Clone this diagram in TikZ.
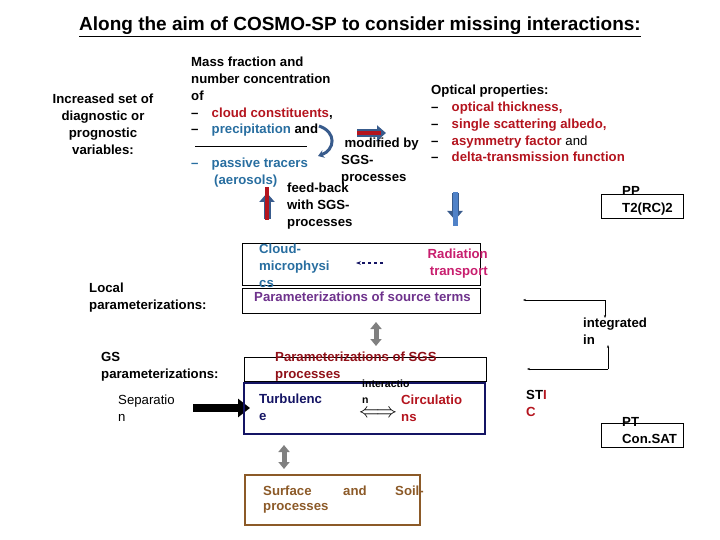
\documentclass[tikz,border=0pt]{standalone}
\usepackage{fontspec}
\setmainfont{Liberation Sans}
\usetikzlibrary{arrows.meta}
\definecolor{dred}{RGB}{180,20,30}
\definecolor{tblue}{RGB}{40,110,160}
\definecolor{mag}{RGB}{200,30,110}
\definecolor{purp}{RGB}{110,50,140}
\definecolor{navy}{RGB}{20,20,100}
\definecolor{brn}{RGB}{140,90,40}
\definecolor{bluea}{RGB}{80,130,200}
\begin{document}
\begin{tikzpicture}[x=1pt,y=-1pt,
 t/.style={inner sep=0,anchor=north west,align=left,font=\fontsize{13.2}{16.8}\selectfont\bfseries},
 bx/.style={draw,line width=0.8pt},
 fat/.style={line width=7pt,-{Triangle[length=9pt,width=15pt]}},
 gdbl/.style={line width=5pt,color=black!50,{Triangle[length=7pt,width=11pt]}-{Triangle[length=7pt,width=11pt]}},
 con/.style={-{Stealth[length=3pt]},line width=0.8pt}]
\useasboundingbox (0,0) rectangle (720,540);
\node[inner sep=0,font=\fontsize{19}{22}\selectfont\bfseries] (title) at (360,27) {\underline{Along the aim of COSMO-SP to consider missing interactions:}};
\node[t,align=center,anchor=north] (inc) at (103,94) {Increased set of\\diagnostic or\\prognostic\\variables:};
\node[t] (loc) at (89,283) {Local\\parameterizations:};
\node[t] (gs) at (101,352) {GS\\parameterizations:};
\node[t,font=\fontsize{13.2}{16.8}\selectfont] (sep) at (118,395) {Separatio\\n};
\coordinate (b1) at (193,408); \coordinate (b2) at (250,408);
\draw[fat,line width=8pt,-{Triangle[length=12pt,width=18pt]}] (b1) -- (b2);
\node[t,align=left] (mass) at (191,57) {Mass fraction and\\number concentration\\of\\–\quad\textcolor{dred}{cloud constituents},\\–\quad\textcolor{tblue}{precipitation} and};
\draw (195,146) -- (307,146);
\node[t,text=tblue] (pass) at (191,158) {–\quad passive tracers};
\node[t,text=tblue] (aer) at (214,175) {(aerosols)};
\coordinate (k1) at (319,126); \coordinate (k2) at (318,156);
\draw[line width=3pt,color=bluea!70!black,-{Stealth[length=6pt,width=8pt]}] (k1) .. controls (337,132) and (335,150) .. (k2);
\node[t,anchor=north east] (mod) at (419,138) {modified by};
\node[t] (sgs) at (341,155) {SGS-\\processes};
\coordinate (r1) at (357,133); \coordinate (r2) at (386,133);
\draw[fat,color=bluea!70!black,line width=8pt] (r1) -- (r2);
\draw[line width=4pt,color=dred] (r1) -- ([xshift=-5pt]r2);
\node[t] (opt) at (431,85) {Optical properties:\\–\quad\textcolor{dred}{optical thickness,}\\–\quad\textcolor{dred}{single scattering albedo,}\\–\quad\textcolor{dred}{asymmetry factor} \mdseries and\\–\quad\textcolor{dred}{delta-transmission function}};
\coordinate (da1) at (455,193); \coordinate (da2) at (455,220);
\draw[fat,color=bluea!70!black] (da1) -- (da2);
\draw[line width=5pt,color=bluea] ([yshift=1pt]da1) -- ([yshift=-6pt]da2);
\coordinate (ua1) at (267,219); \coordinate (ua2) at (267,193);
\draw[fat,color=bluea!70!black] (ua1) -- (ua2);
\draw[line width=4pt,color=dred] ([yshift=-1pt]ua1) -- ([yshift=6pt]ua2);
\node[t] (fb) at (287,183) {feed-back\\with SGS-\\processes};
\draw[line width=0.8pt] (601,194) rectangle (683,218);
\node[t] (pp) at (622,186) {PP\\T2(RC)2};
\draw[bx] (242,243) rectangle (480,285);
\node[t,text=tblue] (cm) at (259,244) {Cloud-\\microphysi\\cs};
\node[t,text=mag,align=right,anchor=north east] (rad) at (488,249) {Radiation\\transport};
\coordinate (e1) at (383,263); \coordinate (e2) at (356,263);
\draw[dashed,line width=1.2pt,color=navy,-{Stealth[length=5pt]}] (e1) -- (e2);
\draw[bx] (242,288) rectangle (480,313);
\node[t,text=purp] (src) at (254,292) {Parameterizations of source terms};
\coordinate (c1) at (523,300); \coordinate (c2) at (605,300); \coordinate (c3) at (605,318);
\draw[con] (c2) -- (c1); \draw[con] (c2) -- (c3);
\node[t] (int) at (583,318) {integrated\\in};
\coordinate (d1) at (608,345); \coordinate (d2) at (608,369); \coordinate (d3) at (527,369);
\draw[con] (d2) -- (d1); \draw[con] (d2) -- (d3);
\coordinate (g1a) at (376,322); \coordinate (g1b) at (376,346);
\draw[gdbl] (g1a) -- (g1b);
\draw[bx] (244,357) rectangle (486,381);
\node[t,text=dred!80!black] (psgs) at (275,352) {Parameterizations of SGS\\processes};
\draw[line width=1.5pt,color=navy] (244,383) rectangle (485,434);
\node[t,text=navy] (tur) at (259,394) {Turbulenc\\e};
\node[t,font=\fontsize{10.5}{15.5}\selectfont\bfseries] (inter) at (362,380) {interactio\\n};
\node[inner sep=0,font=\fontsize{20}{20}\selectfont] (dar) at (378,414) {$\Longleftrightarrow$};
\node[t,text=dred] (cir) at (401,395) {Circulatio\\ns};
\coordinate (g2a) at (284,445); \coordinate (g2b) at (284,469);
\draw[gdbl] (g2a) -- (g2b);
\draw[line width=1.2pt,color=brn] (245,475) rectangle (420,525);
\node[t,text=brn] (s1) at (263,486) {Surface};
\node[t,text=brn] (s2) at (343,486) {and};
\node[t,text=brn] (s3) at (395,486) {Soil-};
\node[t,text=brn] (s4) at (263,503) {processes};
\node[t] (sti) at (526,390) {ST\textcolor{dred}{I}\\\textcolor{dred}{C}};
\draw[line width=0.8pt] (601,423) rectangle (683,447);
\node[t] (pt) at (622,417) {PT\\Con.SAT};
\end{tikzpicture}
\end{document}
